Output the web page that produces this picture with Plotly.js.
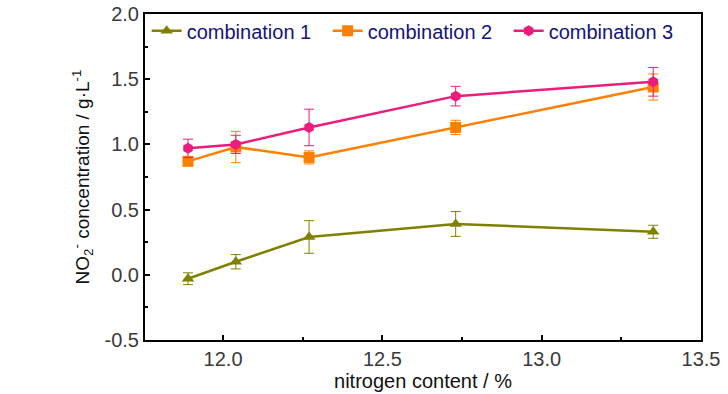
<!DOCTYPE html>
<html>
<head>
<meta charset="utf-8">
<script src="https://cdn.plot.ly/plotly-3.0.1.min.js"></script>
<style>html,body{margin:0;padding:0;background:#fff;}#chart{width:728px;height:394px;}</style>
</head>
<body>
<div id="chart"></div>
<script>
const nitrogen = [11.89, 12.04, 12.27, 12.73, 13.35];
const seriesNames = ["combination 1", "combination 2", "combination 3"];
const combo1 = [-0.03, 0.10, 0.29, 0.39, 0.33];
const combo1Err = [0.045, 0.055, 0.125, 0.095, 0.05];
const combo2 = [0.87, 0.98, 0.90, 1.13, 1.44];
const combo2Err = [0.03, 0.12, 0.05, 0.055, 0.10];
const combo3 = [0.97, 1.00, 1.13, 1.37, 1.48];
const combo3Err = [0.07, 0.07, 0.14, 0.075, 0.11];
const xTicks = [12.0, 12.5, 13.0, 13.5];
const yTicks = [-0.5, 0.0, 0.5, 1.0, 1.5, 2.0];

const colors = ["#808000", "#FF8000", "#EC1C7C"];
const symbols = ["triangle-up", "square", "hexagon"];
const vals = [combo1, combo2, combo3];
const errs = [combo1Err, combo2Err, combo3Err];

const traces = vals.map((v, i) => ({
  x: nitrogen, y: v, name: seriesNames[i], type: "scatter", mode: "lines+markers",
  line: {color: colors[i], width: 2.5},
  marker: {color: colors[i], symbol: symbols[i], size: 11},
  error_y: {type: "data", array: errs[i], visible: true, color: colors[i], thickness: 1, width: 5}
}));

const font = "'Liberation Sans Narrow', 'Liberation Sans', Arial, sans-serif";
const layout = {
  width: 728, height: 394,
  margin: {l: 145, r: 27, t: 13, b: 54},
  paper_bgcolor: "#fff", plot_bgcolor: "#fff",
  font: {family: font, size: 18, color: "#333"},
  showlegend: true,
  legend: {orientation: "h", x: 0.003, y: 1.005, xanchor: "left", yanchor: "top",
    bgcolor: "rgba(0,0,0,0)", font: {family: "'Liberation Sans', Arial, sans-serif", size: 20, color: "#14147A"},
    itemwidth: 30, entrywidth: 136, entrywidthmode: "pixels", traceorder: "normal"},
  xaxis: {
    range: [11.755, 13.5], tickvals: xTicks, ticktext: xTicks.map(t => t.toFixed(1)),
    showline: true, linecolor: "#000", linewidth: 2, mirror: true,
    ticks: "inside", ticklen: 5, tickwidth: 2, tickcolor: "#000",
    minor: {ticks: "inside", ticklen: 3, tickwidth: 2, tickcolor: "#000", dtick: 0.25, tick0: 12.25},
    showgrid: false, zeroline: false,
    tickfont: {family: font, size: 20, color: "#3a3a3a"},
    title: {text: "nitrogen content / %", font: {family: font, size: 20, color: "#111"}, standoff: 2}
  },
  yaxis: {
    range: [-0.5, 2.0], tickvals: yTicks, ticktext: yTicks.map(t => t.toFixed(1)),
    showline: true, linecolor: "#000", linewidth: 2, mirror: true,
    ticks: "inside", ticklen: 5, tickwidth: 2, tickcolor: "#000",
    minor: {ticks: "inside", ticklen: 3, tickwidth: 2, tickcolor: "#000", dtick: 0.25},
    showgrid: false, zeroline: false,
    tickfont: {family: font, size: 20, color: "#3a3a3a"},
    title: {text: "NO<sub>2</sub><sup>-</sup> concentration / g·L<sup>-1</sup>", font: {family: font, size: 19, color: "#111"}, standoff: 10}
  }
};
Plotly.newPlot("chart", traces, layout, {displayModeBar: false, staticPlot: true});
</script>
</body>
</html>
